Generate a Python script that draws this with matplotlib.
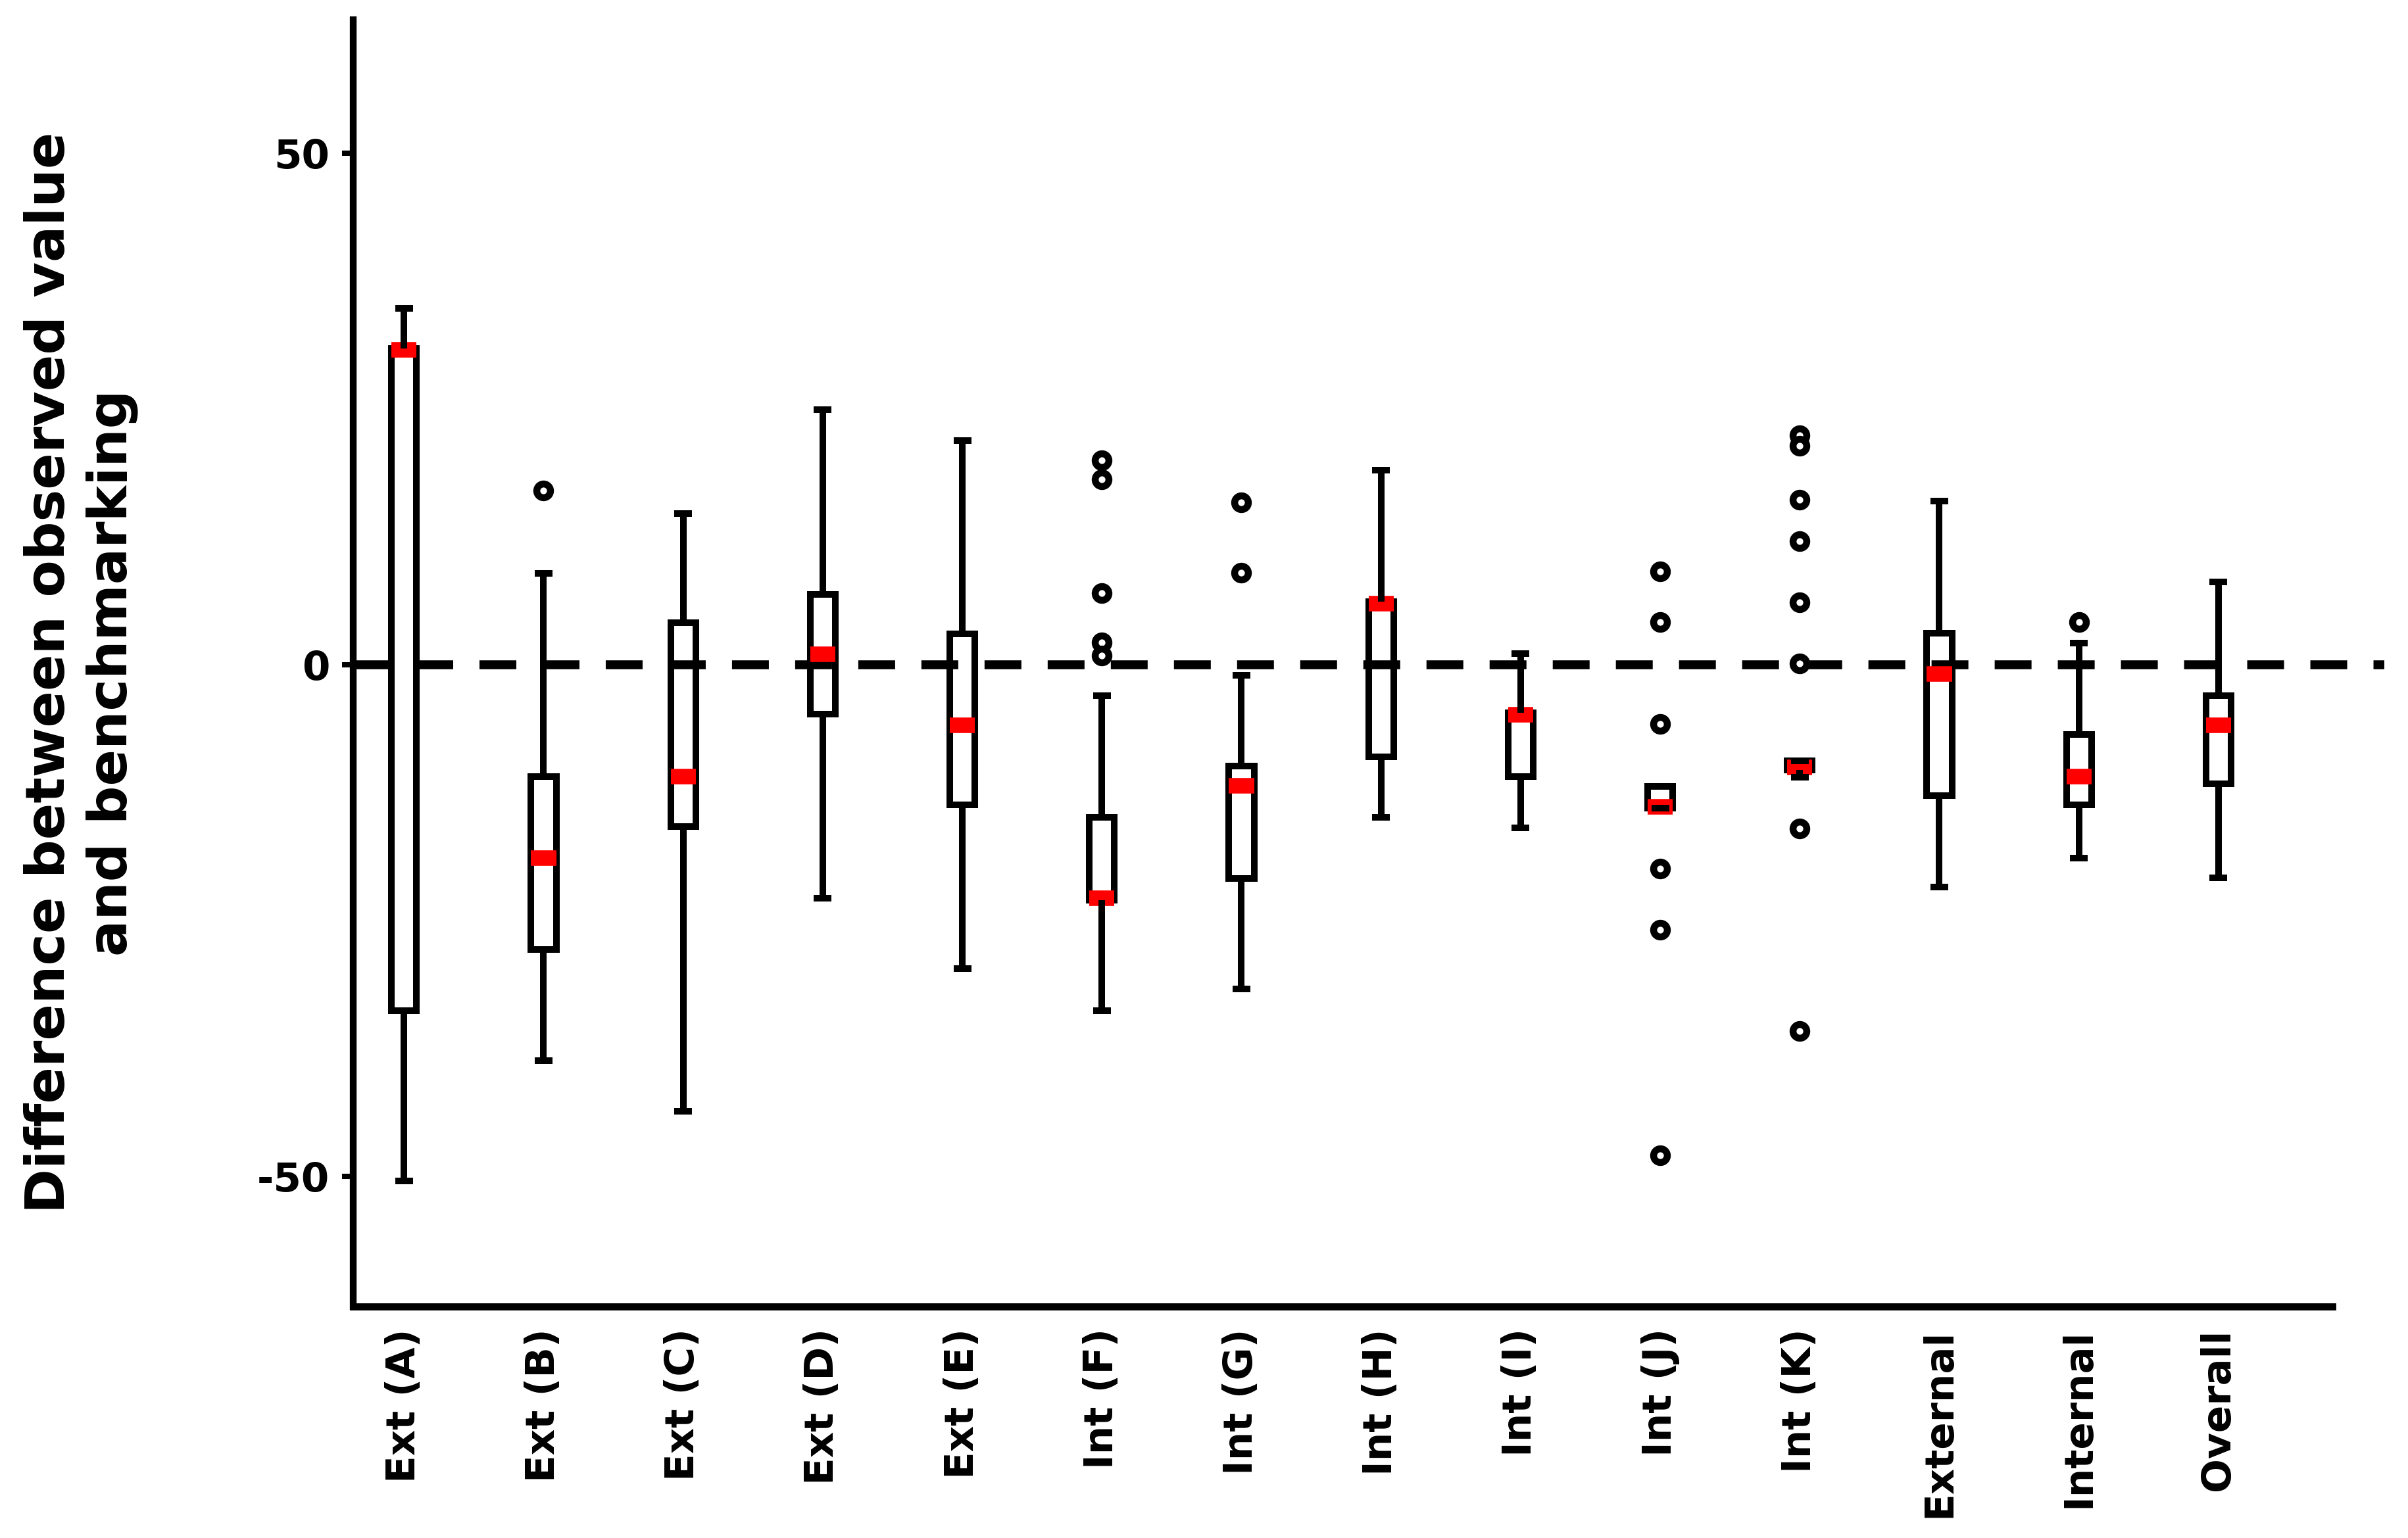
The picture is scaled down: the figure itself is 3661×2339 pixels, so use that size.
import matplotlib
matplotlib.use("Agg")
import matplotlib.pyplot as plt

plt.rcParams['font.family'] = ['DejaVu Sans']

categories = ['Ext (A)', 'Ext (B)', 'Ext (C)', 'Ext (D)', 'Ext (E)', 'Int (F)', 'Int (G)',
              'Int (H)', 'Int (I)', 'Int (J)', 'Int (K)', 'External', 'Internal', 'Overall']
whis_hi = [34.8, 8.9, 14.8, 24.9, 21.9, -3.0, -1.0, 19.0, 1.1, -11.9, -9.4, 16.0, 2.1, 8.1]
q3 = [30.9, -10.9, 4.1, 6.9, 3.0, -14.9, -9.9, 6.2, -4.7, -11.9, -9.4, 3.1, -6.8, -3.0]
median = [30.8, -18.9, -10.9, 1.0, -5.9, -22.8, -11.8, 6.0, -4.9, -13.9, -10.0, -0.9, -10.9, -5.9]
q1 = [-33.8, -27.8, -15.8, -4.8, -13.7, -23.0, -20.9, -9.0, -10.9, -14.0, -10.3, -12.8, -13.7, -11.6]
whis_lo = [-50.4, -38.7, -43.6, -22.8, -29.7, -33.8, -31.7, -14.9, -15.9, -14.0, -11.0, -21.7, -18.9, -20.8]
outliers = [[], [17.0], [], [], [], [20.0, 18.1, 7.0, 2.2, 0.9], [15.9, 9.0], [], [],
            [9.1, 4.2, -5.8, -19.9, -25.9, -47.9],
            [22.4, 21.4, 16.1, 12.1, 6.1, 0.1, -16.0, -35.8], [], [4.2], []]
yticks = [-50, 0, 50]
reference_value = 0
ylabel = "Difference between observed value\nand benchmarking"

fig = plt.figure(figsize=(18.31, 11.695), dpi=200)
ax = fig.add_axes([0.1467, 0.1505, 0.990 - 0.1467, 0.987 - 0.1505])

stats = []
for i, name in enumerate(categories):
    stats.append(dict(label=name, med=median[i], q1=q1[i], q3=q3[i],
                      whislo=whis_lo[i], whishi=whis_hi[i], fliers=outliers[i]))

positions = list(range(1, len(categories) + 1))
res = ax.bxp(stats, positions=positions, widths=0.18, capwidths=0.127,
             patch_artist=True, showfliers=True,
             boxprops=dict(facecolor='white', edgecolor='black', linewidth=3.6),
             whiskerprops=dict(color='black', linewidth=3.6, solid_capstyle='butt'),
             capprops=dict(color='black', linewidth=3.6, solid_capstyle='butt'),
             medianprops=dict(color='#ff0000', linewidth=8.5, solid_capstyle='butt'),
             flierprops=dict(marker='o', markerfacecolor='white', markeredgecolor='black',
                             markersize=7.5, markeredgewidth=3.8, linestyle='none'))
for b in res['boxes']:
    b.set_zorder(2)
for m in res['medians']:
    m.set_zorder(4)
for w in res['whiskers'] + res['caps']:
    w.set_zorder(5)
for f in res['fliers']:
    f.set_zorder(6)

ax.axhline(reference_value, color='black', linewidth=4.86, linestyle=(0, (4.15, 2.96)),
           zorder=3, dash_capstyle='butt')

ax.set_xlim(0.637, 15.19)
ax.set_ylim(-62.7, 63)
ax.set_yticks(yticks)
ax.set_yticklabels([str(t) for t in yticks], fontsize=22, fontweight='bold')
ax.set_xticks(positions)
ax.set_xticklabels(categories, rotation=90, fontsize=22, fontweight='bold', va='top', ha='center')
ax.tick_params(axis='x', length=0, pad=12)
ax.tick_params(axis='y', length=6, width=2.9, pad=7)
for s in ['top', 'right']:
    ax.spines[s].set_visible(False)
ax.spines['left'].set_linewidth(3.7)
ax.spines['bottom'].set_linewidth(3.9)
ax.spines['bottom'].set_bounds(0.637, 14.815)

fig.text(0.0336, 0.5626, ylabel, rotation=90, ha='center', va='center',
         multialignment='center', fontsize=29.5, fontweight='bold', linespacing=1.25)

fig.savefig('out.png', dpi=200)
